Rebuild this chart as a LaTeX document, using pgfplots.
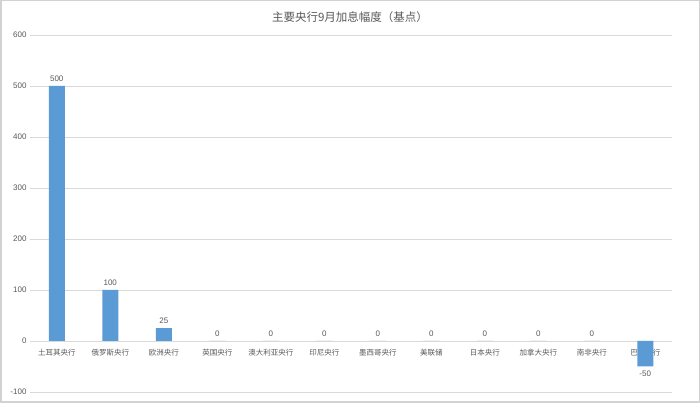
\documentclass[border=0pt]{standalone}
\usepackage{pgfplots}
\pgfplotsset{compat=1.18}
\usepackage{fontspec}
\setmainfont{Liberation Sans}
\newfontfamily\cjk{Noto Sans CJK SC}
\definecolor{barblue}{HTML}{5B9BD5}
\definecolor{txt}{HTML}{595959}
\definecolor{gridc}{HTML}{D9D9D9}
\begin{document}
\begin{tikzpicture}
\fill[white] (0pt,0pt) rectangle (700pt,403pt);
\draw[gray!35,line width=1.5pt] (0.75pt,0.75pt) rectangle (699.25pt,402.25pt);
\node[text=txt,font=\cjk\fontsize{11.5}{13}\selectfont] at (350pt,386pt) {主要央行9月加息幅度（基点）};
\begin{axis}[
  at={(30pt,11pt)}, anchor=south west,
  scale only axis, width=642pt, height=357pt,
  xmin=-0.5, xmax=11.5, ymin=-100, ymax=600,
  ytick={-100,0,...,600},
  xtick={0,...,11},
  xticklabels={土耳其央行,俄罗斯央行,欧洲央行,英国央行,澳大利亚央行,印尼央行,墨西哥央行,美联储,日本央行,加拿大央行,南非央行,巴西央行},
  xticklabel style={font=\cjk\fontsize{7.5}{8}\selectfont, text=txt, yshift=51pt},
  yticklabel style={font=\fontsize{8}{9}\selectfont, text=txt},
  /pgf/number format/assume math mode=true,
  ymajorgrids, grid style={gridc, line width=0.6pt},
  axis line style={draw=none},
  major tick style={draw=none},
  ybar, bar width=16pt,
  nodes near coords,
  nodes near coords style={font=\fontsize{8}{9}\selectfont, text=txt, inner sep=4.5pt},
]
\addplot[fill=barblue, draw=none] coordinates {
(0,500) (1,100) (2,25) (3,0) (4,0) (5,0) (6,0) (7,0) (8,0) (9,0) (10,0) (11,-50)};
\end{axis}
\end{tikzpicture}
\end{document}
